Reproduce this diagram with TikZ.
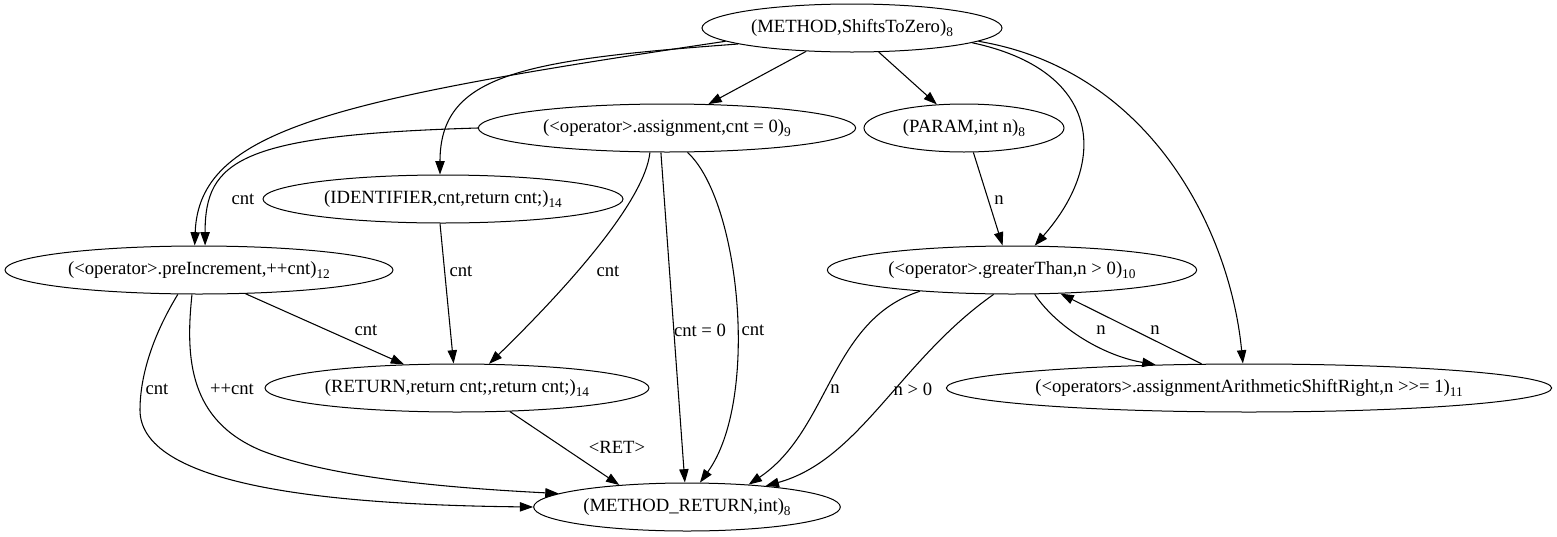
\documentclass[tikz,border=0pt]{standalone}
\usepackage{fontspec}
\setmainfont{Liberation Serif}
\usetikzlibrary{arrows.meta,shapes.geometric}
\newcommand{\idx}[1]{\raisebox{-3.5pt}{\fontsize{10}{12}\selectfont #1}}

\begin{document}
\begin{tikzpicture}[x=0.75pt, y=-0.75pt,
  every node/.style={font=\fontsize{14}{16}\selectfont},
  vert/.style={ellipse, draw, line width=0.75pt, inner sep=0pt, minimum height=36pt, minimum width=#1},
  edge/.style={line width=0.8pt, -{Triangle[length=10pt,width=7pt]}},
  elab/.style={inner sep=1pt}]
\useasboundingbox (0,0) rectangle (1557,536);

% the nodes of the graph (coordinates in pixels)
\node[vert=225pt] (m) at (852,28) {(METHOD,ShiftsToZero)\idx{8}};
\node[vert=283pt] (asg) at (667,128) {(<operator>.assignment,cnt = 0)\idx{9}};
\node[vert=150pt] (par) at (964,128) {(PARAM,int n)\idx{8}};
\node[vert=270pt] (id) at (443,199) {(IDENTIFIER,cnt,return cnt;)\idx{14}};
\node[vert=291pt] (pre) at (199,270) {(<operator>.preIncrement,++cnt)\idx{12}};
\node[vert=277pt] (gt) at (1012,270) {(<operator>.greaterThan,n > 0)\idx{10}};
\node[vert=288pt] (ret) at (457,388) {(RETURN,return cnt;,return cnt;)\idx{14}};
\node[vert=454pt] (ar) at (1249,388) {(<operators>.assignmentArithmeticShiftRight,n >{}>= 1)\idx{11}};
\node[vert=230pt] (mr) at (687,507) {(METHOD\_RETURN,int)\idx{8}};

% edges out of the method node
\draw[edge] (m.207) -- (asg.30);
\draw[edge] (m.318) -- (par.139);
\draw[edge] (m.186) .. controls (330,100) and (199,130) .. (pre.100);
\draw[edge] (m.188) .. controls (520,60) and (440,75) .. (id.97);
\draw[edge] (m.-7) .. controls (1100,70) and (1110,160) .. (gt.47);
\draw[edge] (m.-6) .. controls (1150,70) and (1230,230) .. (ar.104);

% data flow
\draw[edge] (asg.west) .. controls (240,135) and (205,160) .. (pre.76);
\draw[edge] (asg.235) .. controls (645,200) and (570,285) .. (ret.37);
\draw[edge] (asg.256) -- (mr.95);
\draw[edge] (asg.310) .. controls (740,200) and (760,400) .. (mr.62);
\draw[edge] (par.291) -- (gt.111);
\draw[edge] (id.263) -- (ret.98);
\draw[edge] (pre.333) -- (ret.156);
\draw[edge] (pre.229) .. controls (150,340) and (140,380) .. (140,410)
  .. controls (140,490) and (350,505) .. (mr.west);
\draw[edge] (pre.254) .. controls (185,360) and (190,420) .. (260,450)
  .. controls (330,478) and (450,488) .. (mr.174);
\draw[edge] (gt.193) .. controls (830,320) and (830,430) .. (mr.20);
\draw[edge] (gt.233) .. controls (900,360) and (860,460) .. (mr.15);
\draw[edge] (gt.313) .. controls (1055,325) and (1100,355) .. (ar.166);
\draw[edge] (ar.153) -- (gt.334);
\draw[edge] (ret.336) -- (mr.162);

% edge labels
\node[elab] (lasgpre) at (243,199) {cnt};
\node[elab] (lasgret) at (608,271) {cnt};
\node[elab] (lasgmr) at (700,330) {cnt = 0};
\node[elab] (lasgmr2) at (753,330) {cnt};
\node[elab] (lpargt) at (999,200) {n};
\node[elab] (lidret) at (461,271) {cnt};
\node[elab] (lpreret) at (366,330) {cnt};
\node[elab] (lpremr) at (157,389) {cnt};
\node[elab] (lpremr2) at (232,389) {++cnt};
\node[elab] (lgtmr) at (835,389) {n};
\node[elab] (lgtmr2) at (913,389) {n > 0};
\node[elab] (lgtar) at (1101,330) {n};
\node[elab] (largt) at (1155,330) {n};
\node[elab] (lretmr) at (617,447) {<RET>};
\end{tikzpicture}
\end{document}
